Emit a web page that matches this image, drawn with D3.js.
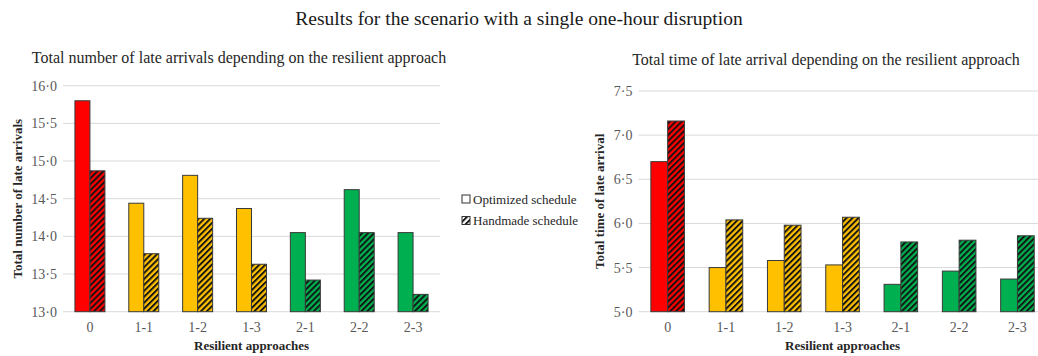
<!DOCTYPE html>
<html>
<head>
<meta charset="utf-8">
<script src="https://cdn.jsdelivr.net/npm/d3@7"></script>
<style>
  body { margin: 0; background: #fff; }
  svg { display: block; font-family: "Liberation Serif", "Times New Roman", serif; }
</style>
</head>
<body>
<svg id="chart" width="1038" height="356"></svg>
<script>
// data
const categories = ["0", "1-1", "1-2", "1-3", "2-1", "2-2", "2-3"];
const groupColors = ["#ff0000", "#ffc000", "#ffc000", "#ffc000", "#00b050", "#00b050", "#00b050"];
const lateCountOptimized = [15.8, 14.44, 14.81, 14.37, 14.05, 14.62, 14.05];
const lateCountHandmade = [14.87, 13.77, 14.24, 13.63, 13.42, 14.05, 13.23];
const lateTimeOptimized = [6.70, 5.50, 5.58, 5.53, 5.31, 5.46, 5.37];
const lateTimeHandmade = [7.16, 6.04, 5.98, 6.07, 5.79, 5.81, 5.86];
const countTicks = [13, 13.5, 14, 14.5, 15, 15.5, 16];
const timeTicks = [5, 5.5, 6, 6.5, 7, 7.5];
const legendLabels = ["Optimized schedule", "Handmade schedule"];

const svg = d3.select("#chart");
const fmt = d => d3.format(".1f")(d).replace(".", "\u00b7");

// hatch patterns, one per fill colour
let defs = svg.append("defs");
let uniqueColors = Array.from(new Set(groupColors)).concat(["#ffffff"]);
uniqueColors.forEach(c => {
    let p = defs.append("pattern")
        .attr("id", "hatch" + c.slice(1))
        .attr("patternUnits", "userSpaceOnUse")
        .attr("width", 4.2).attr("height", 4.2)
        .attr("patternTransform", "rotate(45)");
    p.append("rect").attr("width", 4.2).attr("height", 4.2).attr("fill", c);
    p.append("line").attr("x1", 1).attr("y1", 0).attr("x2", 1).attr("y2", 4.2)
        .attr("stroke", "#111").attr("stroke-width", 1.9);
});

// main title
svg.append("text")
    .attr("x", 519).attr("y", 25)
    .attr("text-anchor", "middle")
    .attr("font-size", 19.5)
    .attr("fill", "#1a1a1a")
    .text("Results for the scenario with a single one-hour disruption");

function drawPanel(opts) {
    let x = d3.scaleBand().domain(categories)
        .range([opts.x0, opts.x1]).paddingInner(opts.pad).paddingOuter(opts.pad / 2);
    let y = d3.scaleLinear().domain(opts.domain).range([opts.y0, opts.y1]);
    let g = svg.append("g");

    // gridlines
    g.selectAll(".grid").data(opts.ticks).enter().append("line")
        .attr("x1", opts.x0).attr("x2", opts.x1)
        .attr("y1", d => y(d)).attr("y2", d => y(d))
        .attr("stroke", "#d9d9d9").attr("stroke-width", 1);

    // y tick labels
    let yAxis = g.append("g")
        .attr("transform", "translate(" + (opts.x0 - 6) + ",0)")
        .call(d3.axisLeft(y).tickValues(opts.ticks).tickFormat(fmt).tickSize(0).tickPadding(0));
    yAxis.attr("font-family", null);
    yAxis.select(".domain").remove();
    yAxis.selectAll("text")
        .attr("font-size", 14).attr("fill", "#595959");

    // bars
    let half = x.bandwidth() / 2;
    let series = [opts.optimized, opts.handmade];
    series.forEach((vals, s) => {
        g.selectAll(".bar" + s).data(vals).enter().append("rect")
            .attr("x", (d, i) => x(categories[i]) + s * half)
            .attr("width", half)
            .attr("y", d => y(d))
            .attr("height", d => y(opts.domain[0]) - y(d))
            .attr("fill", (d, i) => s === 0 ? groupColors[i] : "url(#hatch" + groupColors[i].slice(1) + ")")
            .attr("stroke", "#3a3a3a").attr("stroke-width", 1);
    });

    // x tick labels
    let xAxis = g.append("g")
        .attr("transform", "translate(0," + opts.y0 + ")")
        .call(d3.axisBottom(x).tickSize(0).tickPadding(10));
    xAxis.attr("font-family", null);
    xAxis.select(".domain").remove();
    xAxis.selectAll("text")
        .attr("font-size", 14).attr("fill", "#595959");

    // titles
    g.append("text")
        .attr("x", opts.titleX).attr("y", opts.titleY)
        .attr("text-anchor", "middle").attr("font-size", 16).attr("fill", "#262626")
        .text(opts.title);
    g.append("text")
        .attr("x", (opts.x0 + opts.x1) / 2).attr("y", 350)
        .attr("text-anchor", "middle").attr("font-size", 13).attr("font-weight", "bold")
        .attr("fill", "#262626")
        .text("Resilient approaches");
    g.append("text")
        .attr("transform", "translate(" + opts.yTitleX + "," + ((opts.y0 + opts.y1) / 2) + ") rotate(-90)")
        .attr("text-anchor", "middle").attr("font-size", 13).attr("font-weight", "bold")
        .attr("fill", "#262626")
        .text(opts.yTitle);
}

drawPanel({
    x0: 63, x1: 440, y0: 311.7, y1: 85.7, pad: 0.443,
    domain: [13, 16], ticks: countTicks,
    optimized: lateCountOptimized, handmade: lateCountHandmade,
    title: "Total number of late arrivals depending on the resilient approach",
    titleX: 239, titleY: 63,
    yTitle: "Total number of late arrivals", yTitleX: 22
});

drawPanel({
    x0: 638.5, x1: 1046.6, y0: 311.7, y1: 91, pad: 0.424,
    domain: [5, 7.5], ticks: timeTicks,
    optimized: lateTimeOptimized, handmade: lateTimeHandmade,
    title: "Total time of late arrival depending on the resilient approach",
    titleX: 826, titleY: 65,
    yTitle: "Total time of late arrival", yTitleX: 604
});

// legend
let legend = svg.append("g").attr("transform", "translate(462,199)");
legendLabels.forEach((label, i) => {
    let row = legend.append("g").attr("transform", "translate(0," + (i * 21.5) + ")");
    row.append("rect")
        .attr("x", 0).attr("y", -4).attr("width", 8).attr("height", 8)
        .attr("fill", i === 0 ? "#ffffff" : "url(#hatchffffff)")
        .attr("stroke", "#333").attr("stroke-width", 1);
    row.append("text")
        .attr("x", 11).attr("y", 4.5)
        .attr("font-size", 13).attr("fill", "#262626")
        .text(label);
});
</script>
</body>
</html>
